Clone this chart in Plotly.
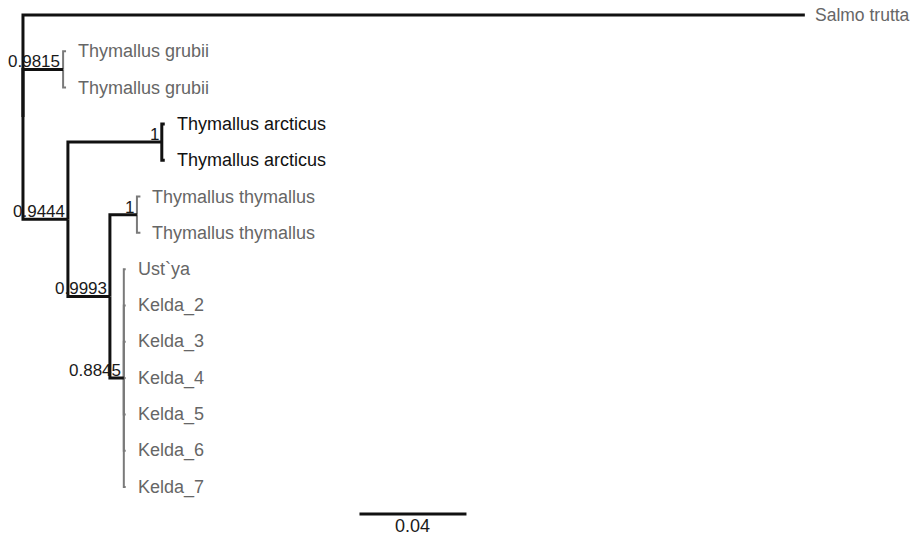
import plotly.graph_objects as go

# ---- tree data ----
node_names = ["root", "Salmo trutta", "N_grubii", "Thymallus grubii", "Thymallus grubii",
              "N1", "N_arct", "Thymallus arcticus", "Thymallus arcticus",
              "N2", "N_thym", "Thymallus thymallus", "Thymallus thymallus",
              "N_kelda", "Ust`ya", "Kelda_2", "Kelda_3", "Kelda_4", "Kelda_5", "Kelda_6", "Kelda_7"]
parents = [None, 0, 0, 2, 2, 0, 5, 6, 6, 5, 9, 10, 10, 9, 13, 13, 13, 13, 13, 13, 13]
branch_lengths = [0.0, 0.2923, 0.0150, 0.0011, 0.0011, 0.0168, 0.0351, 0.0011, 0.0011,
                  0.0157, 0.0101, 0.0013, 0.0013, 0.0052, 0.0007, 0.0007, 0.0007, 0.0007,
                  0.0007, 0.0007, 0.0007]
supports = {2: "0.9815", 5: "0.9444", 6: "1", 9: "0.9993", 10: "1", 13: "0.8845"}
leaf_group = {1: "salmo", 3: "grey", 4: "grey", 7: "black", 8: "black", 11: "grey", 12: "grey",
              14: "grey", 15: "grey", 16: "grey", 17: "grey", 18: "grey", 19: "grey", 20: "grey"}
scale_value = 0.04
scale_label = "0.04"

# ---- layout computation ----
n = len(node_names)
children = {i: [] for i in range(n)}
for i, p in enumerate(parents):
    if p is not None:
        children[p].append(i)

xs = [0.0] * n
for i in range(n):
    if parents[i] is not None:
        xs[i] = xs[parents[i]] + branch_lengths[i]

ys = [None] * n
leaf_counter = [0]
def assign(i):
    if not children[i]:
        ys[i] = leaf_counter[0]
        leaf_counter[0] += 1
    else:
        for c in children[i]:
            assign(c)
        cy = [ys[c] for c in children[i]]
        ys[i] = (min(cy) + max(cy)) / 2
assign(0)

GREY_LINE = "#7a7a7a"
GREY_TEXT = "#666666"
BLACK = "#111111"

segs = {"black": ([], []), "grey": ([], [])}
for i in range(n):
    p = parents[i]
    if p is None:
        continue
    g = leaf_group.get(i, "black")
    key = "grey" if g == "grey" else "black"
    sx, sy = segs[key]
    sx += [xs[p], xs[p], xs[i], None]
    sy += [ys[p], ys[i], ys[i], None]

fig = go.Figure()
fig.add_trace(go.Scatter(x=segs["grey"][0], y=segs["grey"][1], mode="lines",
                         line=dict(color=GREY_LINE, width=2), hoverinfo="skip", showlegend=False))
fig.add_trace(go.Scatter(x=segs["black"][0], y=segs["black"][1], mode="lines",
                         line=dict(color=BLACK, width=3), hoverinfo="skip", showlegend=False))

FONT = "Liberation Sans, Arial, sans-serif"
for i in range(n):
    if not children[i]:
        g = leaf_group[i]
        col = BLACK if g == "black" else GREY_TEXT
        is_salmo = g == "salmo"
        fig.add_annotation(x=xs[i], y=ys[i], text=node_names[i], showarrow=False,
                           xanchor="left", yanchor="middle",
                           xshift=9 if is_salmo else 11, borderpad=0,
                           font=dict(family=FONT, size=17.5 if is_salmo else 18, color=col))
for i, s in supports.items():
    fig.add_annotation(x=xs[i], y=ys[i], text=s, showarrow=False,
                       xanchor="right", yanchor="bottom", xshift=-1, yshift=-4,
                       font=dict(family=FONT, size=17, color="#1a1a1a"))

# scale bar
sb_x0 = 0.1258
fig.add_trace(go.Scatter(x=[sb_x0, sb_x0 + scale_value], y=[13.74, 13.74], mode="lines",
                         line=dict(color=BLACK, width=3), hoverinfo="skip", showlegend=False))
fig.add_annotation(x=sb_x0 + scale_value / 2, y=14.06, text=scale_label, showarrow=False,
                   xanchor="center", yanchor="middle",
                   font=dict(family=FONT, size=18, color="#1a1a1a"))

fig.update_layout(
    width=914, height=537,
    margin=dict(l=0, r=0, t=0, b=0),
    paper_bgcolor="white", plot_bgcolor="white",
    xaxis=dict(range=[-0.0056, 0.3361], visible=False, fixedrange=True),
    yaxis=dict(range=[14.597, -0.193], visible=False, fixedrange=True),
)
fig.write_html("out.html")
